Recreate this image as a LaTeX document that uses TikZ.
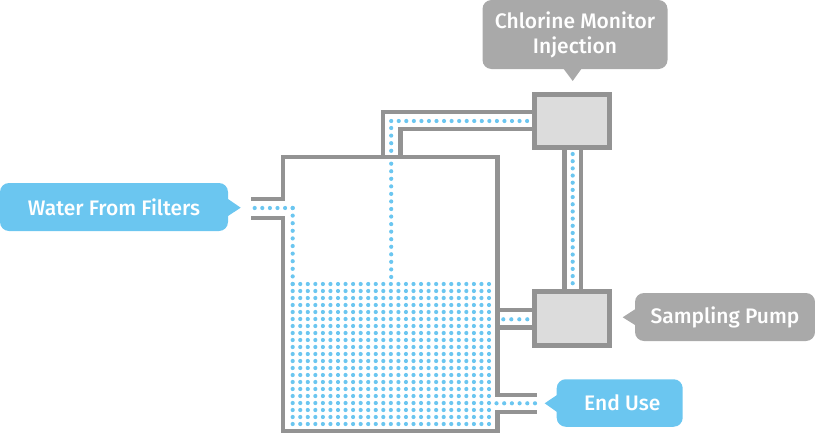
\documentclass[tikz,border=0pt]{standalone}
\usepackage{fontspec}
\setmainfont{Fira Sans Medium}
\definecolor{pipegray}{HTML}{939393}
\definecolor{boxgray}{HTML}{DCDCDC}
\definecolor{tipgray}{HTML}{A9A9A9}
\definecolor{waterblue}{HTML}{6BC6F0}
\begin{document}
\begin{tikzpicture}[
    x=1pt, y=-1pt,
    wall/.style={draw=pipegray, line width=4.8pt},
    unit/.style={draw=pipegray, fill=boxgray, line width=4.8pt, inner sep=0pt, minimum width=75.2pt},
    tag/.style={rounded corners=9pt, inner sep=0pt, text=white, align=center, font=\fontsize{21}{25}\selectfont},
    drop/.style={fill=waterblue}
]
\useasboundingbox (0,0) rectangle (815,434);

% Tank and pipes
\draw[wall] (251,199) -- (283,199) -- (283,157) -- (497.5,157) -- (497.5,395) -- (537,395);
\draw[wall] (251,218) -- (283,218) -- (283,431) -- (497.5,431) -- (497.5,412) -- (537,412);
\draw[wall] (383,157) -- (383,112) -- (534,112);
\draw[wall] (400.5,157) -- (400.5,129) -- (534,129);
\draw[wall] (564.5,150) -- (564.5,290);
\draw[wall] (581,150) -- (581,290);
\draw[wall] (497.5,310) -- (534,310);
\draw[wall] (497.5,327.5) -- (534,327.5);

% Units
\node[unit, minimum height=53.2pt] (monitor) at (572,121) {};
\node[unit, minimum height=54.2pt] (pump) at (572,318.5) {};

% Water
\foreach \i in {0,...,26}
  \foreach \j in {0,...,20}
    \fill[drop] ({292.7+7.55*\i},{284+7*\j}) circle (2.1pt);
\foreach \i in {0,...,5}
  \fill[drop] ({254.7+7.6*\i},208) circle (2.1pt);
\foreach \j in {0,...,10}
  \fill[drop] (292.7,{208+7.6*\j}) circle (2.1pt);
\foreach \j in {0,...,3}
  \fill[drop] (391.2,{128+7.6*\j}) circle (2.1pt);
\foreach \j in {0,...,15}
  \fill[drop] (391.2,{163.7+7.55*\j}) circle (2.1pt);
\foreach \i in {0,...,18}
  \fill[drop] ({391.2+7.55*\i},121) circle (2.1pt);
\foreach \j in {0,...,18}
  \fill[drop] (572.7,{154+7.18*\j}) circle (2.1pt);
\foreach \i in {0,...,3}
  \fill[drop] ({503.3+8*\i},319.3) circle (2.1pt);
\foreach \i in {0,...,5}
  \fill[drop] ({496.5+7.7*\i},403.3) circle (2.1pt);

% Labels
\node[tag, fill=tipgray, minimum width=185pt, minimum height=69pt] (chlorine) at (575,34.5) {Chlorine Monitor\\Injection};
\node[tag, fill=waterblue, minimum width=228pt, minimum height=48pt] (filters) at (114,207) {Water From Filters};
\node[tag, fill=tipgray, minimum width=180pt, minimum height=48pt] (sampling) at (725,317) {Sampling Pump};
\node[tag, fill=waterblue, minimum width=126pt, minimum height=47.5pt] (enduse) at (619.7,403) {\hspace{5pt}End Use};

% Pointers
\fill[tipgray] (563,68) -- (572.7,81) -- (582,68) -- cycle;
\fill[waterblue] (228,199) -- (240.7,207.7) -- (228,216) -- cycle;
\fill[tipgray] (635,309.3) -- (622.7,317.3) -- (635,325) -- cycle;
\fill[waterblue] (557,395) -- (544.7,403.3) -- (557,412) -- cycle;

\end{tikzpicture}
\end{document}
